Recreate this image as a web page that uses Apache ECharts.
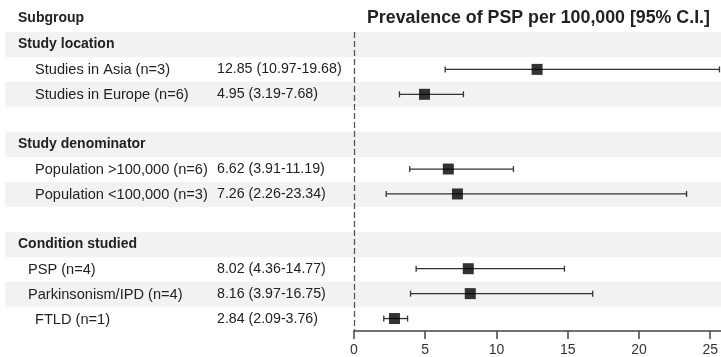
<!DOCTYPE html>
<html>
<head>
<meta charset="utf-8">
<script src="https://cdn.jsdelivr.net/npm/echarts@6/dist/echarts.min.js"></script>
<style>
  html, body { margin: 0; padding: 0; background: #fff; }
  #chart { width: 721px; height: 357px; }
</style>
</head>
<body>
<div id="chart"></div>
<script>
// rows, top to bottom
const rowLabels = [
  'Study location', 'Studies in Asia (n=3)', 'Studies in Europe (n=6)', '',
  'Study denominator', 'Population >100,000 (n=6)', 'Population <100,000 (n=3)', '',
  'Condition studied', 'PSP (n=4)', 'Parkinsonism/IPD (n=4)', 'FTLD (n=1)'
]
// h = group header, s = sub row, c = sub row (condition block, less indent)
const rowKinds = ['h', 's', 's', '', 'h', 's', 's', '', 'h', 'c', 'c', 's']
const estimateText = [
  '', '12.85 (10.97-19.68)', '4.95 (3.19-7.68)', '',
  '', '6.62 (3.91-11.19)', '7.26 (2.26-23.34)', '',
  '', '8.02 (4.36-14.77)', '8.16 (3.97-16.75)', '2.84 (2.09-3.76)'
]
const pointValues = [null, 12.85, 4.95, null, null, 6.62, 7.26, null, null, 8.02, 8.16, 2.84]
// whiskers as drawn in the picture
const lowerValues = [null, 6.4, 3.19, null, null, 3.91, 2.26, null, null, 4.36, 3.97, 2.09]
const upperValues = [null, 25.65, 7.68, null, null, 11.19, 23.34, null, null, 14.77, 16.75, 3.76]
const xTicks = [0, 5, 10, 15, 20, 25]

const rowIds = rowLabels.map((_, i) => 'r' + i)

const ciData = []
const pointData = []
rowIds.forEach((id, i) => {
  if (pointValues[i] == null) return
  ciData.push([lowerValues[i], upperValues[i], i])
  pointData.push([pointValues[i], i])
})

const chart = echarts.init(document.getElementById('chart'))

const textBase = { fontFamily: 'Liberation Sans, Arial, sans-serif', fontSize: 14, color: '#222' }

chart.setOption({
  animation: false,
  title: [
    {
      text: 'Subgroup', left: 18, top: 11, padding: 0,
      textStyle: { ...textBase, fontWeight: 'bold', lineHeight: 14 },
    },
    {
      text: 'Prevalence of PSP per 100,000 [95% C.I.]', left: 367, top: 9, padding: 0,
      textStyle: { ...textBase, fontSize: 17.8, fontWeight: 'bold', lineHeight: 18 },
    },
  ],
  grid: [
    { left: 5, right: 0, top: 32, bottom: 25 },
    { left: 354, right: 0, top: 32, bottom: 25 },
  ],
  xAxis: [
    { gridIndex: 0, type: 'value', show: false },
    {
      gridIndex: 1, type: 'value', min: 0, max: 25.75,
      axisLine: { show: true, onZero: false, lineStyle: { color: '#444', width: 1.5 } },
      axisTick: { show: true, length: 8, customValues: xTicks, lineStyle: { color: '#444', width: 1.5 } },
      axisLabel: { customValues: xTicks, margin: 12, ...textBase, color: '#333' },
      splitLine: { show: false },
    },
  ],
  yAxis: [
    {
      gridIndex: 0, type: 'category', inverse: true, data: rowIds, position: 'left',
      axisLine: { show: false }, axisTick: { show: false },
      splitArea: { show: true, areaStyle: { color: ['#f2f2f2', '#ffffff'] } },
      axisLabel: {
        inside: true, margin: 13, align: 'left',
        formatter: (v, i) => rowLabels[i] ? `{${rowKinds[i]}|${rowLabels[i]}}` : '',
        rich: {
          h: { ...textBase, fontWeight: 'bold' },
          s: { ...textBase, fontSize: 14.6, padding: [0, 0, 0, 17] },
          c: { ...textBase, fontSize: 14.6, padding: [0, 0, 0, 10] },
        },
      },
    },
    {
      gridIndex: 0, type: 'category', inverse: true, data: rowIds, position: 'left', offset: 0,
      axisLine: { show: false }, axisTick: { show: false },
      axisLabel: {
        inside: true, margin: 212, align: 'left', ...textBase, fontSize: 14.2,
        formatter: (v, i) => estimateText[i],
      },
    },
    {
      gridIndex: 1, type: 'category', inverse: true, data: rowIds, show: false,
    },
  ],
  series: [
    {
      type: 'custom',
      xAxisIndex: 1, yAxisIndex: 2,
      data: ciData,
      renderItem: (params, api) => {
        const lo = api.coord([api.value(0), api.value(2)])
        const hi = api.coord([api.value(1), api.value(2)])
        const h = 3
        const style = { stroke: '#333', lineWidth: 1.3 }
        return {
          type: 'group',
          children: [
            { type: 'line', shape: { x1: lo[0], y1: lo[1], x2: hi[0], y2: hi[1] }, style },
            { type: 'line', shape: { x1: lo[0], y1: lo[1] - h, x2: lo[0], y2: lo[1] + h }, style },
            { type: 'line', shape: { x1: hi[0], y1: hi[1] - h, x2: hi[0], y2: hi[1] + h }, style },
          ],
        }
      },
      z: 2,
    },
    {
      type: 'scatter',
      xAxisIndex: 1, yAxisIndex: 2,
      data: pointData,
      symbol: 'rect',
      symbolSize: 11,
      itemStyle: { color: '#000' },
      z: 3,
      markLine: {
        silent: true, symbol: 'none', label: { show: false },
        lineStyle: { color: '#555', type: [6, 3], width: 1.3 },
        data: [{ xAxis: 0 }],
      },
    },
  ],
})
</script>
</body>
</html>
